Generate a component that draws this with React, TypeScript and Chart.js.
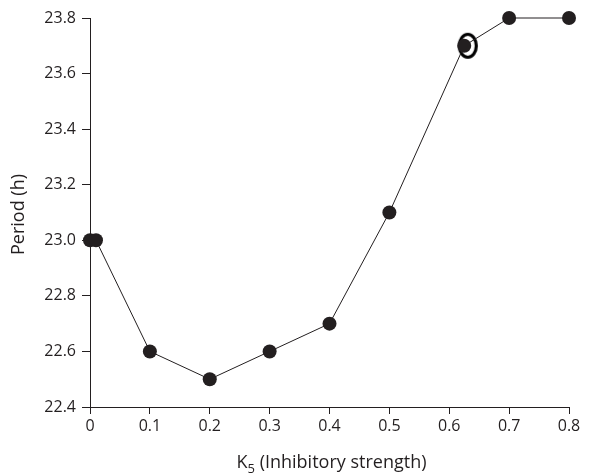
import React, { useEffect, useRef } from "react";
import { Chart, registerables } from "chart.js";

Chart.register(...registerables);

const kValues = [0, 0.01, 0.1, 0.2, 0.3, 0.4, 0.5, 0.625, 0.7, 0.8];
const periodValues = [23.0, 23.0, 22.6, 22.5, 22.6, 22.7, 23.1, 23.7, 23.8, 23.8];
const ringK = [0.631];
const ringPeriod = [23.7];
const xTicks = [0, 0.1, 0.2, 0.3, 0.4, 0.5, 0.6, 0.7, 0.8];
const yTicks = [22.4, 22.6, 22.8, 23.0, 23.2, 23.4, 23.6, 23.8];
const xTitleMain = "K";
const xTitleSub = "5";
const xTitleRest = " (Inhibitory strength)";
const yTitle = "Period (h)";

const INK = "#231f20";
const FONT = "'Open Sans', 'Liberation Sans', sans-serif";

function makeRing(): HTMLCanvasElement {
  const c = document.createElement("canvas");
  c.width = 22;
  c.height = 28;
  const ctx = c.getContext("2d")!;
  ctx.strokeStyle = "#000";
  ctx.lineWidth = 3.2;
  ctx.beginPath();
  ctx.ellipse(11, 14, 8.5, 11.5, 0, 0, Math.PI * 2);
  ctx.stroke();
  return c;
}

const titlePlugin = {
  id: "customTitles",
  afterDraw(chart: any) {
    const { ctx, chartArea } = chart;
    ctx.save();
    ctx.fillStyle = INK;
    // y title
    ctx.font = `18px ${FONT}`;
    ctx.textAlign = "center";
    ctx.textBaseline = "middle";
    ctx.translate(19, (chartArea.top + chartArea.bottom) / 2 + 2);
    ctx.rotate(-Math.PI / 2);
    ctx.fillText(yTitle, 0, 0);
    ctx.setTransform(1, 0, 0, 1, 0, 0);
    // x title with subscript
    const cx = (chartArea.left + chartArea.right) / 2 + 2;
    const base = 468;
    ctx.textAlign = "left";
    ctx.textBaseline = "alphabetic";
    ctx.font = `18px ${FONT}`;
    const wMain = ctx.measureText(xTitleMain).width;
    const wRest = ctx.measureText(xTitleRest).width;
    ctx.font = `13px ${FONT}`;
    const wSub = ctx.measureText(xTitleSub).width;
    const total = wMain + wSub + wRest;
    let x = cx - total / 2;
    ctx.font = `18px ${FONT}`;
    ctx.fillText(xTitleMain, x, base);
    x += wMain;
    ctx.font = `13px ${FONT}`;
    ctx.fillText(xTitleSub, x, base + 5);
    x += wSub;
    ctx.font = `18px ${FONT}`;
    ctx.fillText(xTitleRest, x, base);
    ctx.restore();
  },
};

export default function App() {
  const ref = useRef<HTMLCanvasElement | null>(null);
  useEffect(() => {
    if (!ref.current) return;
    const ring = makeRing();
    const chart = new Chart(ref.current, {
      type: "scatter",
      data: {
        datasets: [
          {
            data: kValues.map((k, i) => ({ x: k, y: periodValues[i] })),
            showLine: true,
            borderColor: INK,
            borderWidth: 1,
            backgroundColor: INK,
            pointBackgroundColor: INK,
            pointBorderColor: INK,
            pointBorderWidth: 0,
            pointRadius: 7,
            clip: false,
          } as any,
          {
            data: ringK.map((k, i) => ({ x: k, y: ringPeriod[i] })),
            showLine: false,
            pointStyle: ring as any,
            pointRadius: 11,
            clip: false,
          } as any,
        ],
      },
      options: {
        animation: false,
        responsive: true,
        maintainAspectRatio: false,
        layout: { padding: { top: 18, right: 29, left: 0, bottom: 0 } },
        plugins: { legend: { display: false }, tooltip: { enabled: false } },
        scales: {
          x: {
            type: "linear",
            min: 0,
            max: 0.8,
            afterFit: (s: any) => {
              s.height = 68;
            },
            afterBuildTicks: (s: any) => {
              s.ticks = xTicks.map((v) => ({ value: v }));
            },
            ticks: {
              color: INK,
              font: { family: FONT, size: 16 },
              padding: 3,
              maxRotation: 0,
              callback: (v: any) => (Number(v) === 0 ? "0" : Number(v).toFixed(1)),
            },
            grid: {
              drawOnChartArea: false,
              drawTicks: true,
              tickLength: 7,
              tickColor: INK,
              color: INK,
            },
            border: { display: true, color: INK, width: 1 },
          },
          y: {
            type: "linear",
            min: 22.4,
            max: 23.8,
            afterFit: (s: any) => {
              s.width = 90;
            },
            afterBuildTicks: (s: any) => {
              s.ticks = yTicks.map((v) => ({ value: v }));
            },
            ticks: {
              color: INK,
              font: { family: FONT, size: 16 },
              padding: 6,
              callback: (v: any) => Number(v).toFixed(1),
            },
            grid: {
              drawOnChartArea: false,
              drawTicks: true,
              tickLength: 8,
              tickColor: INK,
              color: INK,
            },
            border: { display: true, color: INK, width: 1 },
          },
        },
      },
      plugins: [titlePlugin],
    });
    return () => chart.destroy();
  }, []);
  return (
    <div style={{ position: "fixed", left: 0, top: 0, width: 598, height: 475, background: "#fff" }}>
      <canvas ref={ref} />
    </div>
  );
}
